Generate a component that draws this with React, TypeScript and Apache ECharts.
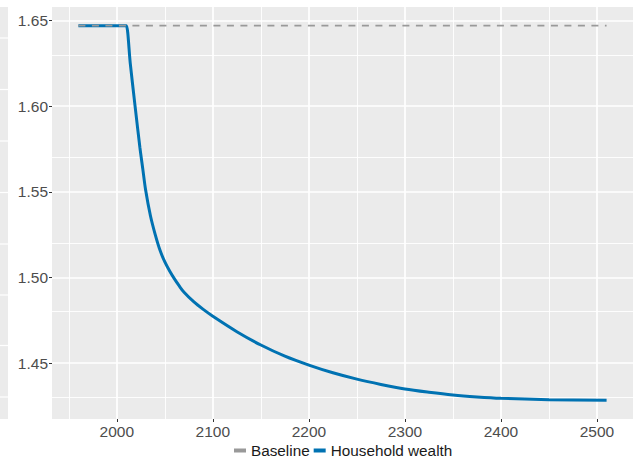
import React, { useEffect, useRef } from "react";
import * as echarts from "echarts";

const years = [1960, 2009, 2010, 2014, 2019, 2024, 2027, 2030, 2035, 2040, 2045, 2050, 2055, 2060, 2065, 2070, 2080, 2090, 2100, 2125, 2150, 2175, 2200, 2225, 2250, 2275, 2300, 2325, 2350, 2375, 2400, 2450, 2510];
const householdWealth = [1.647, 1.647, 1.647, 1.625, 1.6, 1.576, 1.5635, 1.551, 1.536, 1.525, 1.5158, 1.509, 1.5037, 1.4991, 1.495, 1.4913, 1.4858, 1.4813, 1.4773, 1.4683, 1.4605, 1.454, 1.4488, 1.4443, 1.4406, 1.4375, 1.4348, 1.4329, 1.4313, 1.4302, 1.4294, 1.4286, 1.4282];
const baselineYears = [1960, 2510];
const baselineValues = [1.647, 1.647];

const xMajor = [2000, 2100, 2200, 2300, 2400, 2500];
const xMinor = [1950, 2050, 2150, 2250, 2350, 2450];
const yMajor = [1.45, 1.5, 1.55, 1.6, 1.65];
const yMinor = [1.425, 1.475, 1.525, 1.575, 1.625];

const seriesNames = ["Baseline", "Household wealth"];
const FONT = "'Liberation Sans', Arial, sans-serif";

export default function App() {
  const ref = useRef<HTMLDivElement>(null);
  useEffect(() => {
    if (!ref.current) return;
    const chart = echarts.init(ref.current, undefined, { renderer: "svg" });
    const stripLines = [38, 89.5, 141, 192.5, 244, 295, 345.5, 397];
    const gridLine = (w: number) => ({ color: "#FFFFFF", width: w, type: "solid" as const });
    chart.setOption({
      animation: false,
      backgroundColor: "#FFFFFF",
      textStyle: { fontFamily: FONT },
      grid: {
        left: 52,
        right: 4,
        top: 7,
        bottom: 44,
        show: true,
        backgroundColor: "#EBEBEB",
        borderWidth: 0,
      },
      graphic: [
        { type: "rect", shape: { x: 0, y: 7, width: 8, height: 412 }, style: { fill: "#EBEBEB" }, silent: true },
        ...stripLines.map((y) => ({
          type: "line",
          shape: { x1: 0, y1: y, x2: 8, y2: y },
          style: { stroke: "#FFFFFF", lineWidth: 1.2 },
          silent: true,
        })),
      ],
      legend: {
        data: [
          { name: seriesNames[0], icon: "rect", itemStyle: { color: "#999999" } },
          { name: seriesNames[1], icon: "rect", itemStyle: { color: "#0072B2" } },
        ],
        left: 234,
        top: 443,
        itemWidth: 12,
        itemHeight: 4,
        itemGap: 4,
        padding: 0,
        textStyle: { fontSize: 15.3, color: "#1A1A1A", fontFamily: FONT },
        selectedMode: false,
      },
      xAxis: {
        type: "value",
        min: 1932.5,
        max: 2537.5,
        splitLine: { show: false },
        axisLine: { show: false },
        axisTick: { show: true, length: 3, lineStyle: { color: "#333333", width: 1 } },
        axisLabel: {
          showMinLabel: false,
          showMaxLabel: false,
          color: "#4D4D4D",
          fontSize: 15.5,
          margin: 4,
          fontFamily: FONT,
          formatter: (v: number) => String(v),
        },
      },
      yAxis: {
        type: "value",
        min: 1.4173,
        max: 1.6579,
        splitLine: { show: false },
        axisLine: { show: false },
        axisTick: { show: true, length: 3, lineStyle: { color: "#333333", width: 1 } },
        axisLabel: {
          showMinLabel: false,
          showMaxLabel: false,
          color: "#4D4D4D",
          fontSize: 15.5,
          margin: 4,
          fontFamily: FONT,
          formatter: (v: number) => v.toFixed(2),
        },
      },
      series: [
        {
          name: "gridlines",
          type: "line",
          data: [],
          z: 1,
          silent: true,
          markLine: {
            z: 1,
            silent: true,
            symbol: ["none", "none"],
            label: { show: false },
            emphasis: { disabled: true },
            animation: false,
            data: [
              ...xMinor.map((v) => ({ xAxis: v, lineStyle: gridLine(0.9) })),
              ...yMinor.map((v) => ({ yAxis: v, lineStyle: gridLine(0.9) })),
              ...xMajor.map((v) => ({ xAxis: v, lineStyle: gridLine(1.7) })),
              ...yMajor.map((v) => ({ yAxis: v, lineStyle: gridLine(1.7) })),
            ],
          },
        },
        {
          name: seriesNames[1],
          type: "line",
          z: 3,
          showSymbol: false,
          symbol: "none",
          smooth: 0.3,
          data: years.map((y, i) => [y, householdWealth[i]]),
          lineStyle: { color: "#0072B2", width: 3 },
          itemStyle: { color: "#0072B2" },
        },
        {
          name: seriesNames[0],
          type: "line",
          z: 4,
          showSymbol: false,
          symbol: "none",
          data: baselineYears.map((y, i) => [y, baselineValues[i]]),
          lineStyle: { color: "#999999", width: 1.6, type: [7, 6.5] },
          itemStyle: { color: "#999999" },
        },
      ],
    });
    return () => chart.dispose();
  }, []);
  return (
    <div
      ref={ref}
      style={{ position: "fixed", left: 0, top: 0, width: 637, height: 463 }}
    />
  );
}
